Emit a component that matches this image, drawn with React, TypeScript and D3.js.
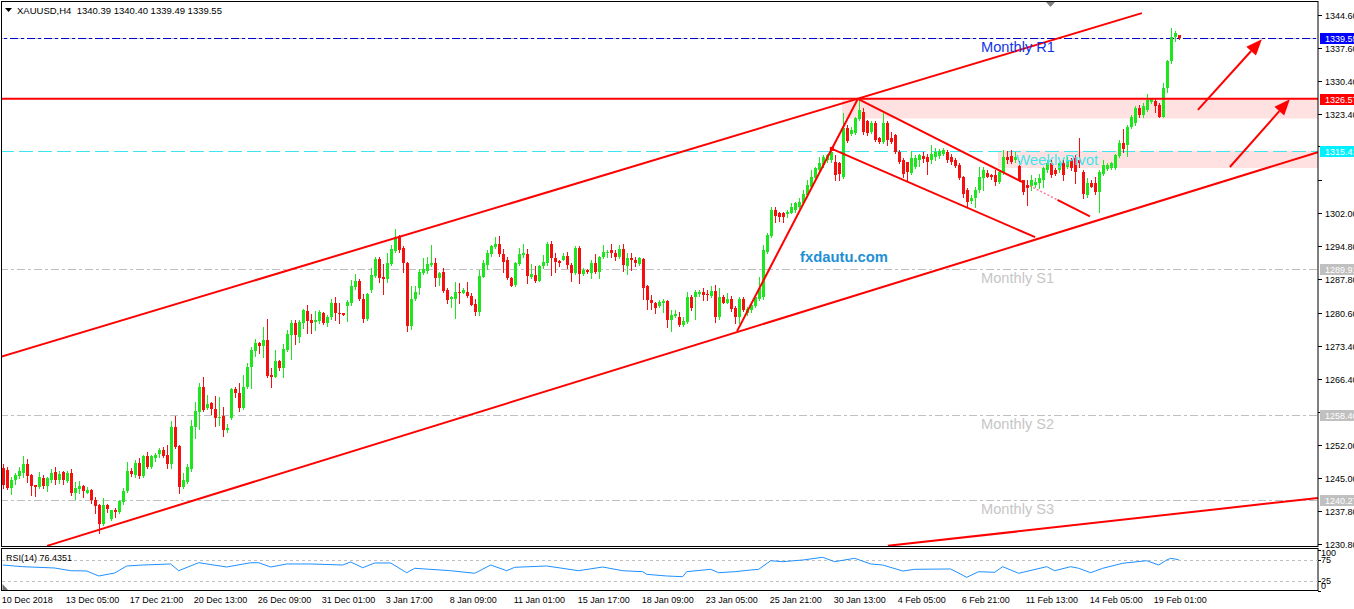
import React from "react";
import * as d3 from "d3";

// ---------- candle data (XAUUSD H4) ----------
const opens = [
  1247.1,1246.7,1242.8,1244.6,1245.4,1246.1,1248.0,1245.6,1243.5,1243.1,
  1245.1,1243.3,1244.6,1246.2,1244.6,1246.2,1244.4,1246.0,1241.7,1242.6,
  1243.3,1241.8,1242.5,1240.3,1239.2,1235.1,1239.2,1236.2,1238.1,1237.7,
  1239.9,1242.2,1246.6,1245.6,1248.3,1245.4,1249.7,1247.3,1249.4,1250.2,
  1251.0,1249.9,1248.0,1255.9,1251.9,1243.0,1244.2,1246.9,1256.0,1259.3,
  1264.6,1260.0,1261.1,1259.8,1257.9,1258.3,1255.3,1257.8,1264.1,1263.3,
  1260.0,1264.5,1268.9,1272.4,1274.0,1273.3,1274.7,1267.2,1266.8,1270.2,
  1268.7,1272.5,1275.8,1278.3,1275.3,1278.4,1280.9,1279.0,1278.5,1278.8,
  1280.4,1278.3,1279.7,1282.6,1280.6,1280.4,1282.1,1282.7,1286.0,1287.4,
  1283.6,1279.1,1285.4,1288.5,1292.1,1288.2,1287.7,1291.0,1293.9,1296.9,
  1294.4,1291.2,1277.7,1283.4,1285.9,1289.2,1289.6,1290.8,1291.2,1288.1,
  1289.4,1285.4,1283.4,1283.4,1285.1,1284.9,1285.1,1284.1,1282.4,1280.8,
  1288.2,1290.8,1293.2,1294.6,1295.3,1293.2,1291.9,1288.0,1286.5,1291.0,
  1293.0,1293.2,1288.3,1288.7,1287.4,1290.5,1291.3,1295.3,1292.4,1291.7,
  1291.9,1292.8,1290.8,1289.0,1294.5,1288.9,1289.7,1289.2,1291.2,1289.4,
  1292.5,1293.3,1294.0,1293.5,1292.5,1294.2,1290.7,1292.3,1292.0,1291.0,
  1292.1,1286.2,1283.3,1282.7,1281.9,1282.7,1283.1,1279.0,1279.8,1279.7,
  1277.9,1278.6,1284.0,1283.9,1284.6,1285.1,1284.6,1284.1,1285.3,1279.6,
  1284.0,1282.7,1283.6,1281.5,1279.7,1283.6,1280.4,1281.1,1281.9,1283.6,
  1284.0,1293.7,1297.1,1302.6,1302.1,1301.9,1301.8,1302.1,1302.6,1303.4,
  1304.2,1305.9,1307.7,1309.5,1311.3,1312.3,1313.4,1313.4,1313.0,1312.7,
  1309.8,1320.2,1319.1,1319.3,1322.2,1323.8,1321.7,1319.5,1321.3,1318.1,
  1317.3,1321.3,1318.1,1318.8,1315.2,1313.4,1313.0,1310.7,1312.0,1313.4,
  1314.3,1314.1,1313.4,1314.0,1314.3,1314.7,1315.2,1314.0,1313.4,1312.3,
  1309.7,1306.9,1304.6,1305.2,1306.9,1309.5,1310.7,1310.2,1310.2,1308.6,
  1310.7,1314.1,1314.3,1313.4,1312.1,1309.1,1308.0,1307.8,1308.0,1308.4,
  1309.1,1311.3,1312.7,1311.3,1311.3,1312.7,1312.0,1313.4,1313.8,1313.4,
  1310.9,1305.9,1308.4,1308.4,1306.6,1310.5,1311.4,1311.6,1311.6,1314.3,
  1317.1,1316.6,1320.6,1321.3,1324.7,1323.1,1324.2,1325.9,1326.2,1325.2,
  1322.7,1328.8,1334.6,1339.8,1340.39,
];
const highs = [
  1248.0,1247.3,1245.3,1246.1,1247.4,1249.7,1249.1,1245.9,1243.5,1246.2,
  1245.6,1245.3,1246.9,1247.3,1246.6,1246.6,1246.6,1247.0,1244.2,1244.3,
  1243.5,1243.1,1242.7,1241.0,1239.4,1240.6,1239.5,1238.2,1238.5,1240.3,
  1242.8,1248.5,1247.1,1248.9,1249.2,1249.9,1250.5,1249.9,1250.3,1251.4,
  1251.7,1252.1,1257.3,1258.3,1252.1,1246.1,1248.1,1257.5,1261.4,1265.4,
  1266.8,1262.8,1261.4,1262.7,1262.5,1260.3,1256.6,1264.3,1264.6,1265.4,
  1267.2,1269.7,1273.2,1275.0,1274.3,1277.4,1279.2,1268.6,1272.5,1270.4,
  1273.8,1276.8,1279.0,1279.0,1279.0,1281.4,1282.2,1280.3,1280.9,1281.1,
  1280.7,1280.1,1283.5,1284.0,1282.6,1280.4,1283.3,1287.6,1288.8,1287.9,
  1284.6,1284.7,1290.2,1292.5,1292.5,1291.0,1293.3,1295.1,1298.6,1297.3,
  1294.8,1291.5,1286.2,1286.2,1289.9,1292.3,1292.5,1295.1,1292.3,1289.4,
  1290.1,1285.8,1284.1,1287.2,1286.9,1285.8,1287.2,1284.9,1283.6,1289.7,
  1291.9,1294.0,1295.1,1296.8,1297.1,1294.2,1292.5,1288.3,1291.5,1294.4,
  1295.3,1294.2,1291.0,1290.5,1290.8,1293.0,1295.8,1296.0,1293.3,1292.0,
  1293.3,1293.7,1291.2,1294.8,1294.8,1290.1,1289.9,1292.0,1293.1,1292.8,
  1295.1,1294.0,1295.3,1294.0,1295.1,1295.3,1293.3,1293.5,1292.6,1292.5,
  1292.3,1286.5,1284.4,1282.9,1283.3,1283.4,1283.3,1281.1,1281.1,1280.8,
  1279.7,1285.1,1284.4,1285.4,1285.4,1285.8,1285.4,1286.2,1286.5,1285.8,
  1284.4,1284.9,1284.2,1282.0,1283.9,1284.0,1281.7,1282.6,1284.1,1288.3,
  1295.1,1297.6,1303.4,1303.4,1302.3,1302.3,1302.6,1304.1,1304.4,1305.2,
  1306.9,1309.1,1311.3,1312.0,1314.1,1314.5,1314.8,1315.9,1314.5,1313.0,
  1323.5,1320.9,1320.6,1322.7,1326.5,1324.5,1322.0,1321.7,1321.7,1318.4,
  1323.5,1321.7,1319.5,1319.1,1315.6,1313.8,1313.0,1315.4,1314.5,1314.8,
  1315.2,1314.8,1316.6,1315.9,1315.7,1315.9,1315.6,1314.8,1313.8,1312.7,
  1310.0,1307.3,1305.9,1307.5,1311.8,1312.0,1311.3,1310.5,1311.3,1311.3,
  1315.6,1315.4,1315.6,1315.2,1313.1,1309.1,1309.1,1310.2,1309.5,1310.5,
  1312.0,1313.4,1313.4,1311.6,1313.0,1313.4,1314.1,1313.8,1314.5,1318.1,
  1311.3,1309.5,1309.1,1309.8,1311.3,1313.4,1312.7,1313.0,1314.8,1317.7,
  1320.0,1320.9,1323.1,1325.0,1325.2,1325.6,1327.6,1326.7,1326.5,1325.6,
  1329.9,1334.9,1341.7,1341.2,1340.40,
];
const lows = [
  1242.8,1242.6,1241.5,1243.8,1245.1,1245.3,1244.2,1241.3,1241.1,1242.8,
  1242.8,1242.1,1244.2,1243.8,1244.0,1243.8,1244.2,1241.3,1240.5,1241.7,
  1241.0,1241.7,1239.7,1237.5,1233.1,1234.9,1237.7,1236.0,1236.7,1237.5,
  1239.5,1242.0,1245.4,1245.3,1245.0,1245.3,1247.1,1247.1,1248.7,1249.6,
  1249.6,1247.1,1247.1,1251.4,1241.8,1242.8,1244.0,1246.6,1253.7,1255.5,
  1259.5,1259.8,1258.8,1256.2,1256.4,1254.1,1255.0,1257.6,1262.5,1259.5,
  1259.8,1264.4,1264.4,1271.2,1271.8,1271.1,1266.8,1264.6,1266.7,1268.2,
  1266.8,1272.3,1270.7,1273.8,1274.3,1277.2,1276.1,1276.1,1276.8,1278.3,
  1278.1,1277.6,1279.3,1279.0,1278.3,1280.1,1278.8,1282.2,1285.7,1283.3,
  1278.6,1279.0,1285.1,1288.2,1287.2,1284.6,1287.2,1290.8,1293.7,1293.7,
  1289.4,1276.7,1277.0,1283.3,1284.6,1288.9,1289.0,1290.5,1286.2,1286.5,
  1285.1,1282.7,1281.7,1279.5,1282.6,1284.7,1283.9,1282.2,1280.1,1280.1,
  1288.2,1289.9,1292.8,1294.4,1292.8,1289.4,1287.7,1286.2,1286.3,1290.8,
  1292.6,1287.0,1288.0,1287.2,1287.4,1290.1,1290.8,1288.7,1289.4,1290.5,
  1291.8,1290.1,1287.4,1288.9,1286.9,1288.7,1289.0,1288.0,1289.0,1288.0,
  1292.3,1292.6,1292.5,1291.8,1292.3,1289.6,1288.9,1289.7,1290.5,1290.8,
  1283.4,1281.3,1281.3,1280.4,1281.7,1280.8,1277.4,1276.7,1279.6,1277.7,
  1277.6,1278.4,1281.1,1279.1,1284.1,1283.3,1283.3,1283.9,1278.6,1279.3,
  1282.6,1282.6,1281.0,1278.4,1278.4,1281.0,1280.1,1280.8,1281.7,1283.3,
  1283.4,1293.3,1296.9,1300.1,1300.3,1300.1,1301.2,1301.9,1302.3,1303.0,
  1303.9,1305.5,1307.3,1309.1,1310.9,1312.0,1313.0,1313.0,1309.1,1309.1,
  1309.5,1317.3,1318.8,1319.1,1322.0,1319.1,1318.8,1319.3,1317.4,1317.0,
  1317.0,1316.6,1317.0,1315.0,1312.7,1309.8,1309.1,1310.4,1311.6,1312.1,
  1313.0,1310.5,1312.8,1313.4,1313.8,1314.5,1313.0,1312.5,1312.0,1309.3,
  1305.5,1303.4,1304.1,1303.2,1306.6,1306.9,1309.7,1309.3,1308.0,1308.4,
  1310.4,1312.7,1312.7,1313.0,1308.8,1306.2,1303.7,1306.9,1307.7,1307.3,
  1307.7,1310.9,1309.8,1310.2,1310.9,1309.1,1311.6,1311.3,1308.4,1312.0,
  1305.2,1305.5,1307.7,1306.2,1302.3,1310.2,1311.3,1311.4,1311.4,1314.1,
  1315.2,1314.3,1320.2,1320.9,1322.7,1322.7,1324.0,1325.6,1323.8,1322.6,
  1322.6,1328.1,1334.2,1339.1,1339.49,
];
const closes = [
  1243.5,1242.8,1244.6,1245.6,1246.4,1248.0,1245.4,1243.3,1243.1,1245.3,
  1243.3,1244.9,1246.1,1244.6,1245.9,1244.6,1246.0,1241.7,1242.8,1243.3,
  1242.1,1242.5,1240.3,1239.0,1235.1,1239.2,1238.4,1238.1,1237.7,1240.0,
  1242.3,1246.6,1245.9,1248.3,1245.4,1249.8,1247.3,1249.7,1249.9,1251.0,
  1249.8,1248.0,1255.9,1251.7,1243.1,1244.6,1247.3,1256.2,1259.5,1264.6,
  1259.6,1260.9,1259.8,1258.0,1258.2,1255.3,1255.7,1264.1,1263.2,1260.0,
  1264.5,1268.9,1272.5,1274.0,1273.3,1274.7,1266.9,1266.8,1270.2,1268.7,
  1272.7,1275.9,1278.4,1275.8,1278.6,1281.1,1278.8,1278.4,1279.0,1280.8,
  1278.3,1279.7,1282.6,1280.4,1280.3,1280.1,1282.9,1286.2,1287.4,1283.5,
  1279.3,1284.6,1288.7,1292.1,1288.0,1287.7,1291.2,1294.2,1296.9,1294.0,
  1291.2,1277.7,1283.6,1285.1,1289.4,1289.9,1291.0,1291.2,1288.1,1289.2,
  1285.2,1283.3,1283.9,1285.1,1284.9,1285.4,1284.1,1282.2,1280.8,1288.5,
  1291.2,1293.3,1294.9,1295.3,1293.2,1291.5,1288.0,1286.4,1291.2,1293.2,
  1293.3,1288.5,1288.8,1287.4,1290.5,1291.5,1295.3,1292.3,1291.5,1291.3,
  1292.8,1290.8,1289.0,1294.5,1288.9,1289.7,1289.4,1291.2,1289.4,1292.6,
  1293.6,1293.7,1293.3,1292.5,1294.2,1290.8,1292.3,1291.9,1291.2,1292.3,
  1285.8,1283.3,1282.6,1281.5,1282.9,1283.1,1279.0,1280.1,1280.3,1277.9,
  1278.8,1283.9,1281.5,1285.1,1285.1,1284.4,1284.4,1285.2,1279.7,1284.0,
  1282.7,1283.6,1281.3,1279.7,1283.6,1281.1,1281.3,1282.2,1283.9,1285.8,
  1294.0,1297.3,1302.6,1301.4,1301.2,1301.2,1302.3,1303.4,1304.1,1304.4,
  1306.2,1308.0,1309.8,1311.6,1312.7,1314.0,1314.5,1315.2,1310.2,1310.5,
  1320.2,1317.4,1319.9,1322.4,1324.2,1319.5,1319.3,1321.3,1317.7,1317.3,
  1321.3,1317.7,1317.3,1315.2,1313.0,1310.5,1310.9,1313.8,1313.8,1314.5,
  1313.6,1313.0,1314.8,1315.2,1315.4,1315.6,1313.4,1313.0,1312.1,1309.5,
  1306.2,1304.4,1305.2,1306.9,1309.8,1311.3,1309.8,1309.8,1308.7,1310.9,
  1314.1,1313.4,1313.0,1314.1,1309.1,1306.6,1307.3,1309.1,1308.7,1309.5,
  1311.6,1312.7,1310.2,1310.5,1312.7,1310.2,1313.4,1311.6,1310.9,1312.7,
  1306.2,1308.4,1307.7,1306.6,1310.9,1312.3,1312.3,1312.7,1314.5,1317.1,
  1315.7,1320.6,1322.7,1324.7,1323.1,1325.0,1326.3,1326.5,1325.0,1322.7,
  1329.0,1334.6,1339.9,1340.8,1339.55,
];

// ---------- axes ----------
const priceTicks = [1344.6,1337.6,1330.4,1323.4,1316.4,1309.2,1302.0,1294.8,1287.8,1280.6,1273.4,1266.4,1259.2,1252.0,1245.0,1237.8,1230.8];
const hiddenTickLabels = [1316.4, 1309.2, 1259.2];
const timeLabels = ["10 Dec 2018","13 Dec 05:00","17 Dec 21:00","20 Dec 13:00","26 Dec 09:00","31 Dec 01:00","3 Jan 17:00","8 Jan 09:00","11 Jan 01:00","15 Jan 17:00","18 Jan 09:00","23 Jan 05:00","25 Jan 21:00","30 Jan 13:00","4 Feb 05:00","6 Feb 21:00","11 Feb 13:00","14 Feb 05:00","19 Feb 01:00"];
const timeLabelBars = [0,16,32,48,64,80,96,112,128,144,160,176,192,208,224,240,256,272,288];

// ---------- RSI(14) ----------
const rsiBars = [0,5,13,17,21,24,28,31,35,42,44,49,56,62,64,67,71,77,85,87,90,93,97,101,103,112,118,122,126,128,136,144,150,155,160,161,166,170,171,177,179,183,187,189,192,195,200,205,208,213,217,220,225,228,237,241,244,248,250,254,261,263,267,269,272,275,280,286,289,291,292,294];
const rsiValues = [63.4,59.3,56.1,49.5,48.8,36.6,43.9,61.0,63.4,65.9,49.5,69.0,58.5,69.0,69.0,58.5,65.9,65.9,63.4,70.7,56.8,68.3,68.3,44.6,55.4,49.5,43.2,63.4,49.5,57.8,61.0,49.5,58.5,49.5,47.1,40.7,36.6,34.9,47.1,52.9,44.6,47.1,51.2,52.9,73.9,71.5,75.6,82.2,71.5,79.8,65.9,63.4,48.8,52.9,53.7,33.4,47.1,45.6,59.3,43.2,59.3,49.5,59.3,55.4,44.6,55.4,67.6,73.9,63.4,75.6,79.8,76.4];
const rsiLevels = [75, 25];
const rsiScaleLabels = [100, 75, 25, 0];

// ---------- levels ----------
const monthlyNames = ["Monthly R1", "Monthly S1", "Monthly S2", "Monthly S3"];
const monthlyPrices = [1339.55, 1289.91, 1258.46, 1240.27];
const monthlyColors = ["#1034e8", "#c6c6c6", "#c6c6c6", "#c6c6c6"];
const bidPrice = 1339.55;
const resistance = 1326.57;
const weeklyPivot = 1315.41;
const labelBar = 244.6;
const pivotLabelBar = 253.3;

// zones: start bar, top price, bottom price
const zoneStart = [209.8, 248.8];
const zoneTop = [1326.57, 1315.41];
const zoneBottom = [1322.33, 1311.68];

// trend lines: [bar, price] anchors
const channelUpper = [[-0.7, 1271.0], [284.8, 1345.0]];
const channelLower = [[11.1, 1230.4], [328.8, 1315.1]];
const baseLine = [[221.3, 1230.4], [328.8, 1240.7]];
const impulseLine = [[183.6, 1276.6], [213.8, 1326.57]];
const flagLower = [[207.3, 1315.8], [258.1, 1296.8]];
const flagUpper = [[213.8, 1326.57], [271.8, 1301.3]];
const arrowLines = [
  [[298.8, 1324.2], [314.8, 1339.4]],
  [[306.8, 1311.9], [321.8, 1326.5]],
];

const GREEN = "#1ee61e";
const RED = "#f50f0f";
const LINE_RED = "#ff0000";
const FONT = "'Liberation Sans', Arial, sans-serif";

export default function App() {
  const xs = d3.scaleLinear().domain([0, 329]).range([2.7, 1318.7]);
  const ys = d3.scaleLinear().domain([1230.8, 1344.6]).range([544, 15]);
  const ry = d3.scaleLinear().domain([0, 100]).range([591, 550]);
  const plotRight = 1318;
  const line = d3.line<[number, number]>();
  const pt = (a: number[]): [number, number] => [xs(a[0]), ys(a[1])];
  const seg = (a: number[], b: number[]) => line([pt(a), pt(b)]) || "";
  const part = (a: number[], b: number[], t0: number, t1: number) => {
    const [ax, ay] = pt(a);
    const [bx, by] = pt(b);
    const ix = d3.interpolateNumber(ax, bx);
    const iy = d3.interpolateNumber(ay, by);
    return line([[ix(t0), iy(t0)], [ix(t1), iy(t1)]]) || "";
  };

  const rsiPath = d3
    .line<number>()
    .x((_, i) => xs(rsiBars[i]))
    .y((v) => ry(v))(rsiValues) || "";

  const arrow = (a: number[], b: number[], key: number) => {
    const [x1, y1] = pt(a);
    const [x2, y2] = pt(b);
    const ang = Math.atan2(y2 - y1, x2 - x1);
    const hl = 16, hw = 6.5;
    const bx = x2 - hl * Math.cos(ang), by = y2 - hl * Math.sin(ang);
    const nx = -Math.sin(ang) * hw, ny = Math.cos(ang) * hw;
    return (
      <g key={key}>
        <line x1={x1} y1={y1} x2={bx} y2={by} stroke={LINE_RED} strokeWidth={2} />
        <polygon points={`${x2},${y2} ${bx + nx},${by + ny} ${bx - nx},${by - ny}`} fill={LINE_RED} />
      </g>
    );
  };

  const tag = (p: number, fill: string, key: string) => {
    const y = ys(p);
    return (
      <g key={key}>
        <rect x={1320} y={Math.round(y) - 5} width={40} height={11} fill={fill} />
        <text x={1325} y={Math.round(y) + 3.5} fontSize={9} fill="#ffffff" fontFamily={FONT}>
          {p.toFixed(2)}
        </text>
      </g>
    );
  };

  return (
    <svg width={1354} height={609} style={{ position: "absolute", left: 0, top: 0, background: "#fff", display: "block" }}>
      <defs>
        <clipPath id="plotClip">
          <rect x={1.5} y={1.5} width={plotRight - 1.5} height={545} />
        </clipPath>
        <clipPath id="rsiClip">
          <rect x={1.5} y={549} width={plotRight - 1.5} height={41} />
        </clipPath>
      </defs>

      <g clipPath="url(#plotClip)">
        {zoneStart.map((s, i) => (
          <rect key={"z" + i} x={xs(s)} y={ys(zoneTop[i])} width={plotRight - xs(s)} height={ys(zoneBottom[i]) - ys(zoneTop[i])} fill="#ffe1e1" />
        ))}
        {monthlyPrices.map((p, i) => (
          <line key={"m" + i} x1={0} x2={plotRight} y1={Math.round(ys(p)) + 0.5} y2={Math.round(ys(p)) + 0.5} stroke="#c0c0c0" strokeDasharray="8,3,3,3" />
        ))}
        <line x1={0} x2={plotRight} y1={Math.round(ys(bidPrice)) + 0.5} y2={Math.round(ys(bidPrice)) + 0.5} stroke="#0000c8" strokeDasharray="8,3,3,3" strokeDashoffset={7} />
        <line x1={0} x2={plotRight} y1={Math.round(ys(weeklyPivot)) + 0.5} y2={Math.round(ys(weeklyPivot)) + 0.5} stroke="#3fe6f0" strokeDasharray="14,5" />

        {opens.map((o, i) => {
          const c = closes[i];
          const col = c >= o ? GREEN : RED;
          const cx = Math.round(xs(i));
          const yTop = Math.round(ys(Math.max(o, c)));
          const yBot = Math.round(ys(Math.min(o, c)));
          return (
            <g key={"c" + i}>
              <line x1={cx + 0.5} x2={cx + 0.5} y1={Math.round(ys(highs[i]))} y2={Math.round(ys(lows[i])) + 1} stroke={col} strokeWidth={1} />
              <rect x={cx - 1} y={yTop} width={3} height={Math.max(1, yBot - yTop)} fill={col} />
            </g>
          );
        })}

        <line x1={0} x2={plotRight} y1={ys(resistance)} y2={ys(resistance)} stroke={LINE_RED} strokeWidth={2} />

        <g fill="none" stroke={LINE_RED} strokeWidth={2}>
          <path d={seg(channelUpper[0], channelUpper[1])} />
          <path d={seg(channelLower[0], channelLower[1])} />
          <path d={seg(baseLine[0], baseLine[1])} />
          <path d={seg(impulseLine[0], impulseLine[1])} />
          <path d={seg(flagLower[0], flagLower[1])} />
          <path d={part(flagUpper[0], flagUpper[1], 0, 0.71)} />
          <path d={part(flagUpper[0], flagUpper[1], 0.74, 0.86)} stroke="#ff7a9a" strokeWidth={1.5} strokeDasharray="2,2" />
          <path d={part(flagUpper[0], flagUpper[1], 0.86, 1)} />
        </g>
        <rect x={xs(flagLower[0][0]) - 2} y={ys(flagLower[0][1]) - 2} width={4} height={4} fill={LINE_RED} />

        {arrowLines.map((a, i) => arrow(a[0], a[1], i))}

        {monthlyNames.map((n, i) => (
          <text key={"mn" + i} x={xs(labelBar)} y={ys(monthlyPrices[i]) + 14} fontSize={14.6} fill={monthlyColors[i]} fontFamily={FONT}>
            {n}
          </text>
        ))}
        <text x={xs(pivotLabelBar)} y={ys(weeklyPivot) + 14} fontSize={15} fill="#3fe6f0" fontFamily={FONT}>
          WeeklyPivot
        </text>
        <text x={800} y={262} fontSize={14.8} fontWeight="bold" fill="#1f8fd4" fontFamily={FONT}>
          fxdautu.com
        </text>
      </g>

      <polygon points="5,8 12,8 8.5,12" fill="#000" />
      <text x={17} y={14} fontSize={9.5} fill="#000" fontFamily={FONT} style={{ whiteSpace: "pre" }}>
        {"XAUUSD,H4  1340.39 1340.40 1339.49 1339.55"}
      </text>
      <polygon points="1046,2 1055,2 1050.5,7" fill="#808080" />

      <rect x={1.5} y={1.5} width={plotRight - 1.5} height={545} fill="none" stroke="#000" />
      <rect x={1.5} y={548.5} width={plotRight - 1.5} height={42} fill="none" stroke="#000" />

      {priceTicks.map((t) => {
        const y = Math.round(ys(t)) + 0.5;
        return (
          <g key={"t" + t}>
            <line x1={plotRight} x2={plotRight + 4} y1={y} y2={y} stroke="#000" />
            {hiddenTickLabels.indexOf(t) < 0 && (
              <text x={1325} y={y + 3} fontSize={9} fill="#000" fontFamily={FONT}>
                {t.toFixed(2)}
              </text>
            )}
          </g>
        );
      })}
      {tag(monthlyPrices[3], "#c0c0c0", "s3")}
      {tag(monthlyPrices[2], "#c0c0c0", "s2")}
      {tag(monthlyPrices[1], "#c0c0c0", "s1")}
      {tag(weeklyPivot, "#00f0ff", "wp")}
      {tag(resistance, "#ff0000", "res")}
      {tag(bidPrice, "#0000ff", "bid")}

      <g clipPath="url(#rsiClip)">
        {rsiLevels.map((l) => (
          <line key={"rl" + l} x1={2} x2={plotRight} y1={Math.round(ry(l)) + 0.5} y2={Math.round(ry(l)) + 0.5} stroke="#c0c0c0" strokeDasharray="3,3" />
        ))}
        <path d={rsiPath} fill="none" stroke="#1e90ff" strokeWidth={1} />
      </g>
      <polygon points="2.5,584 2.5,590 8,590" fill="#707070" />
      <text x={6} y={560.5} fontSize={9} fill="#000" fontFamily={FONT}>
        RSI(14) 76.4351
      </text>
      {rsiScaleLabels.map((v, i) => (
        <g key={"rs" + v}>
          <line x1={plotRight} x2={plotRight + 3} y1={Math.round(ry(v)) + 0.5} y2={Math.round(ry(v)) + 0.5} stroke="#000" />
          <text x={1321} y={ry(v) + (i === 0 ? 6 : i === 3 ? -2 : 3)} fontSize={9} fill="#000" fontFamily={FONT}>
            {v}
          </text>
        </g>
      ))}

      {timeLabels.map((lab, i) => (
        <text key={"tl" + i} x={xs(timeLabelBars[i]) - 1} y={603} fontSize={9} fill="#000" fontFamily={FONT}>
          {lab}
        </text>
      ))}
    </svg>
  );
}
